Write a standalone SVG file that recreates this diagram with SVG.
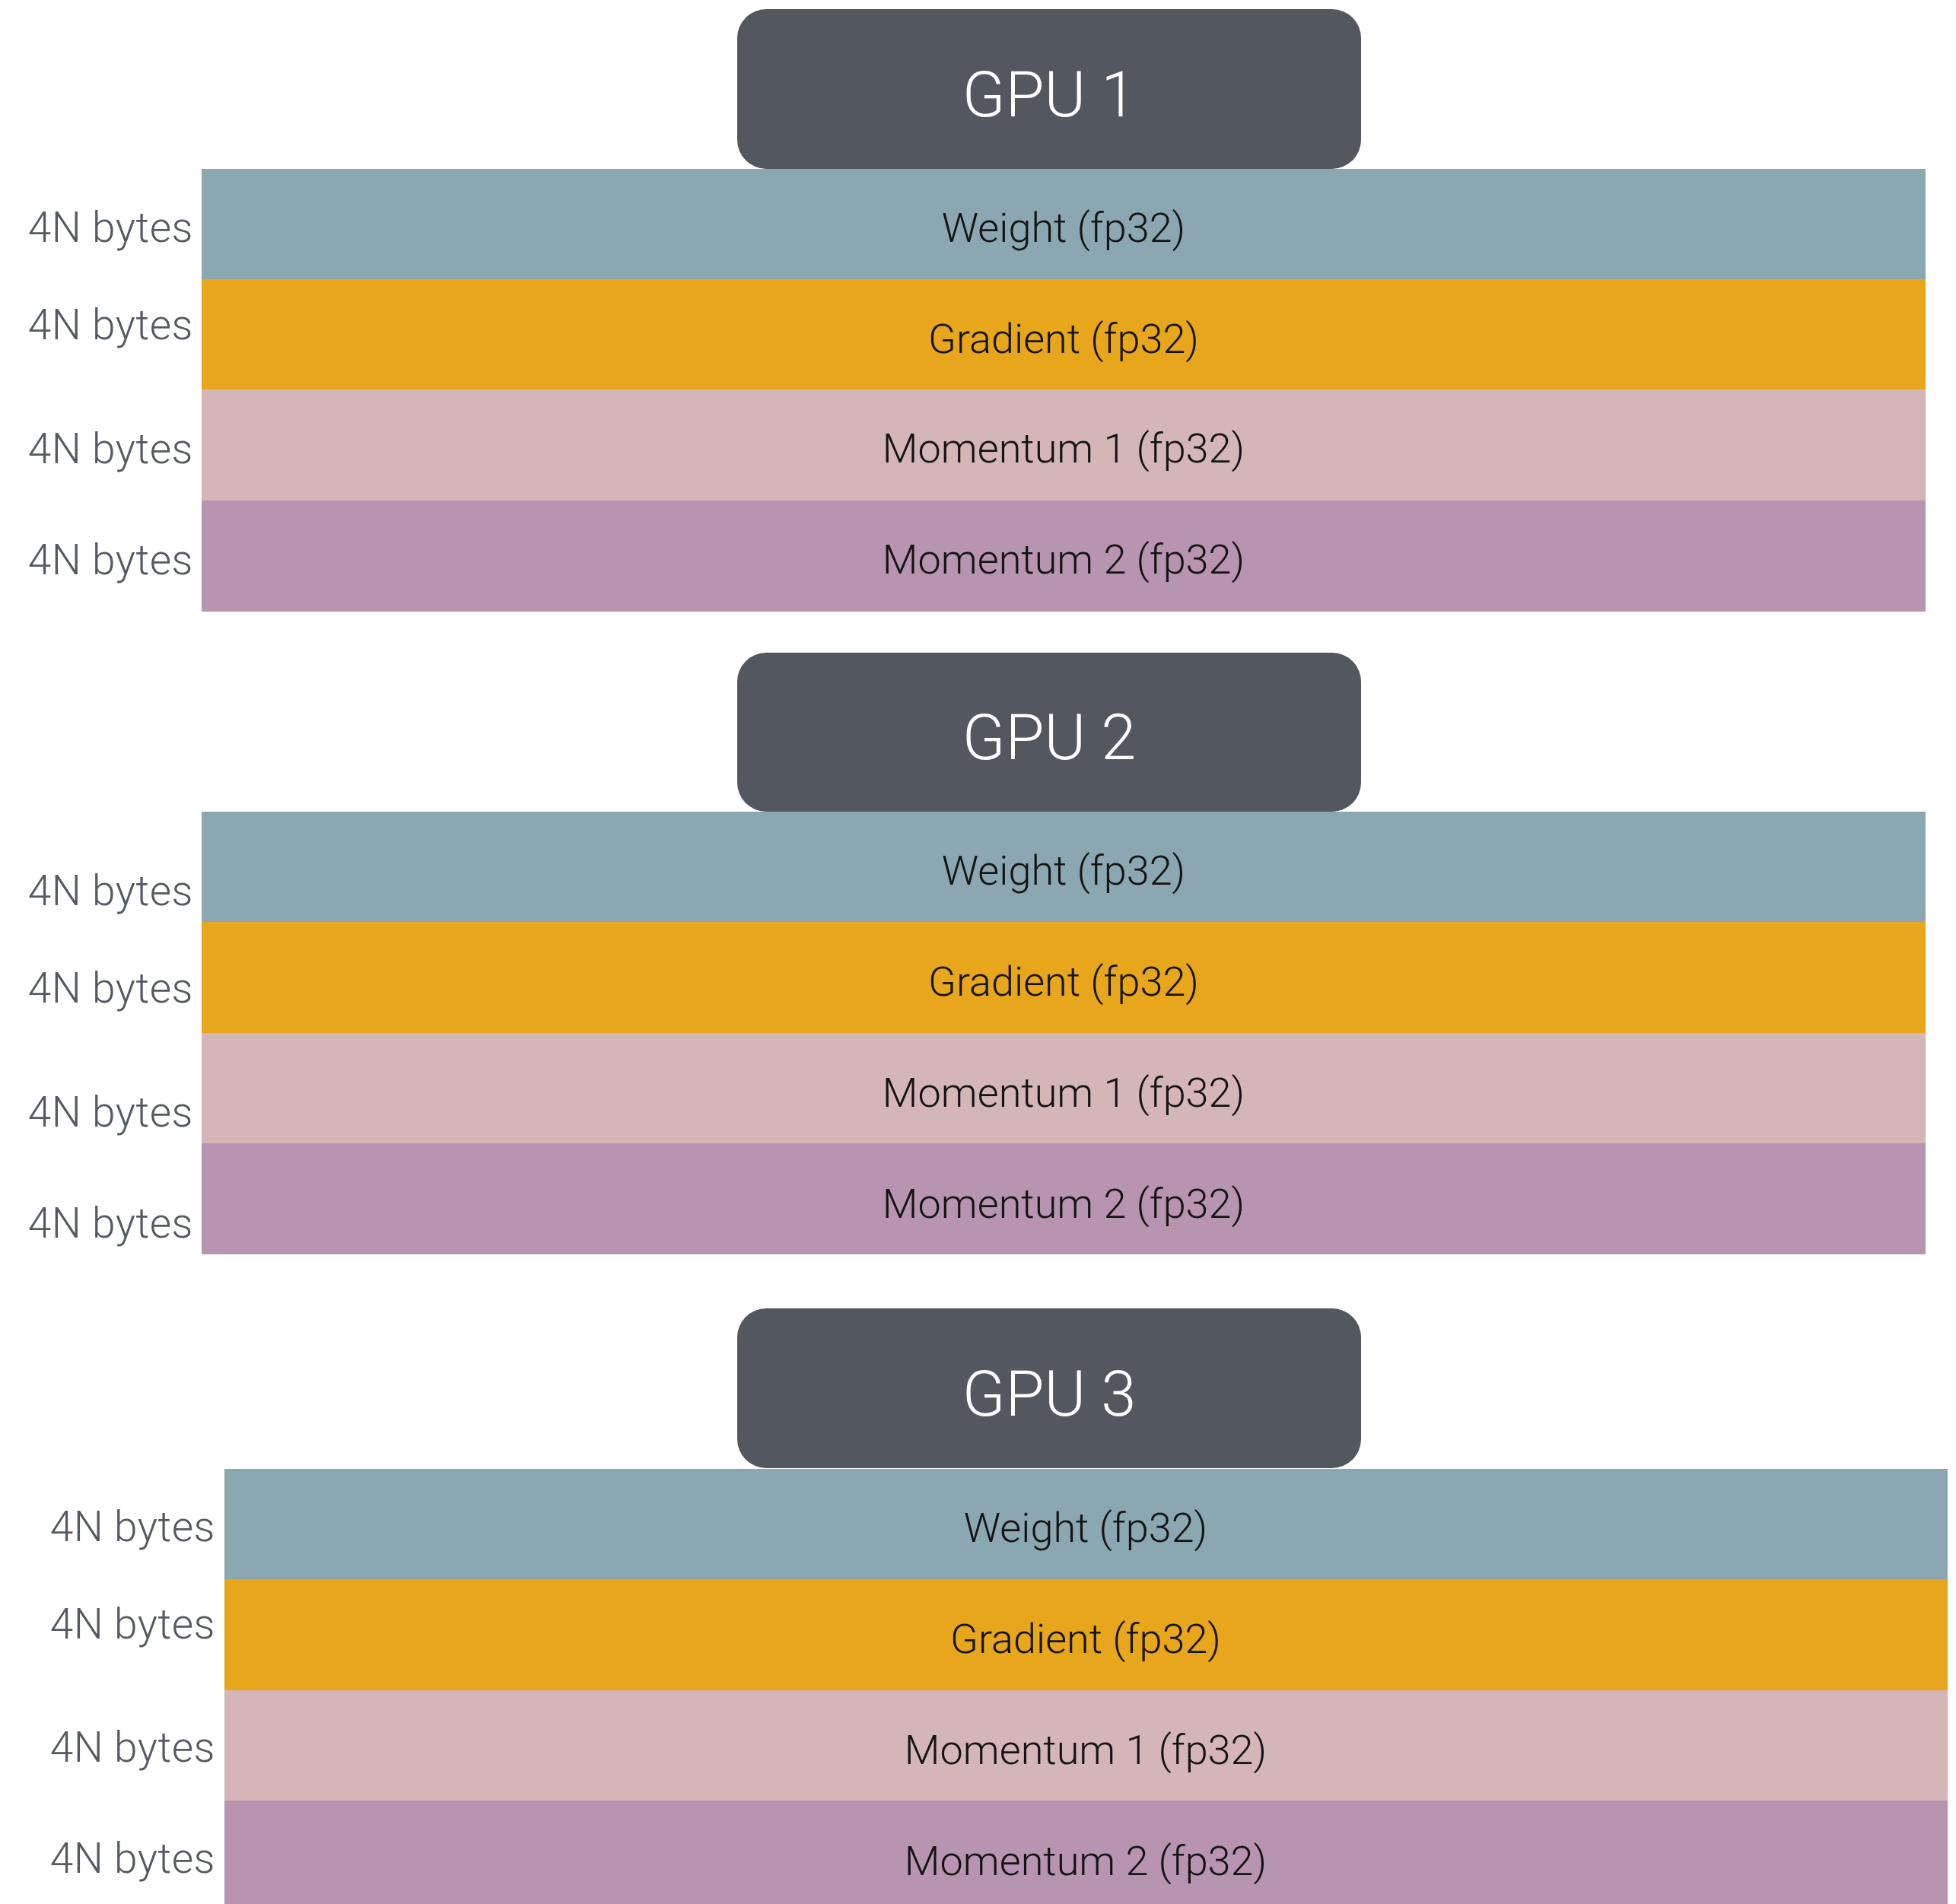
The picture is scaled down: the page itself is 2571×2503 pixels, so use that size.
<svg xmlns="http://www.w3.org/2000/svg" width="2571" height="2503" viewBox="0 0 2571 2503">
  <style>
    .gpu { fill: #53585f; }
    .gpu-title { font-family: Roboto, "Liberation Sans", sans-serif; font-weight: 300; font-size: 83px; fill: #ffffff; text-anchor: middle; }
    .w { fill: #8aa7b2; }
    .g { fill: #e8a61c; }
    .m1 { fill: #d4b5b8; }
    .m2 { fill: #b794b0; }
    .band-text { font-family: Roboto, "Liberation Sans", sans-serif; font-weight: 300; font-size: 54px; fill: #141414; text-anchor: middle; }
    .size { font-family: Roboto, "Liberation Sans", sans-serif; font-weight: 300; font-size: 55px; letter-spacing: 0.5px; fill: #555a62; text-anchor: end; }
  </style>
  <rect width="2571" height="2503" fill="#ffffff"/>

  <!-- GPU 1 memory stack -->
  <g id="gpu1">
    <rect x="265" y="222" width="2266" height="146" class="w"/>
    <rect x="265" y="367" width="2266" height="146" class="g"/>
    <rect x="265" y="512" width="2266" height="147" class="m1"/>
    <rect x="265" y="658" width="2266" height="146" class="m2"/>
    <rect x="969" y="12" width="820" height="210" rx="38" ry="38" class="gpu"/>
    <text x="1379" y="153" class="gpu-title">GPU 1</text>
    <text x="1398" y="318" class="band-text">Weight (fp32)</text>
    <text x="1398" y="464" class="band-text">Gradient (fp32)</text>
    <text x="1398" y="608" class="band-text">Momentum 1 (fp32)</text>
    <text x="1398" y="754" class="band-text">Momentum 2 (fp32)</text>
    <text x="254" y="318" class="size">4N bytes</text>
    <text x="254" y="446" class="size">4N bytes</text>
    <text x="254" y="609" class="size">4N bytes</text>
    <text x="254" y="755" class="size">4N bytes</text>
  </g>

  <!-- GPU 2 memory stack -->
  <g id="gpu2">
    <rect x="265" y="1067" width="2266" height="146" class="w"/>
    <rect x="265" y="1212" width="2266" height="147" class="g"/>
    <rect x="265" y="1358" width="2266" height="146" class="m1"/>
    <rect x="265" y="1503" width="2266" height="146" class="m2"/>
    <rect x="969" y="858" width="820" height="209" rx="38" ry="38" class="gpu"/>
    <text x="1379" y="998" class="gpu-title">GPU 2</text>
    <text x="1398" y="1163" class="band-text">Weight (fp32)</text>
    <text x="1398" y="1309" class="band-text">Gradient (fp32)</text>
    <text x="1398" y="1455" class="band-text">Momentum 1 (fp32)</text>
    <text x="1398" y="1601" class="band-text">Momentum 2 (fp32)</text>
    <text x="254" y="1190" class="size">4N bytes</text>
    <text x="254" y="1318" class="size">4N bytes</text>
    <text x="254" y="1481" class="size">4N bytes</text>
    <text x="254" y="1627" class="size">4N bytes</text>
  </g>

  <!-- GPU 3 memory stack -->
  <g id="gpu3">
    <rect x="295" y="1931" width="2265" height="146" class="w"/>
    <rect x="295" y="2076" width="2265" height="147" class="g"/>
    <rect x="295" y="2222" width="2265" height="146" class="m1"/>
    <rect x="295" y="2367" width="2265" height="146" class="m2"/>
    <rect x="969" y="1720" width="820" height="210" rx="38" ry="38" class="gpu"/>
    <text x="1379" y="1861" class="gpu-title">GPU 3</text>
    <text x="1427" y="2027" class="band-text">Weight (fp32)</text>
    <text x="1427" y="2173" class="band-text">Gradient (fp32)</text>
    <text x="1427" y="2319" class="band-text">Momentum 1 (fp32)</text>
    <text x="1427" y="2465" class="band-text">Momentum 2 (fp32)</text>
    <text x="283" y="2026" class="size">4N bytes</text>
    <text x="283" y="2154" class="size">4N bytes</text>
    <text x="283" y="2316" class="size">4N bytes</text>
    <text x="283" y="2462" class="size">4N bytes</text>
  </g>
</svg>
